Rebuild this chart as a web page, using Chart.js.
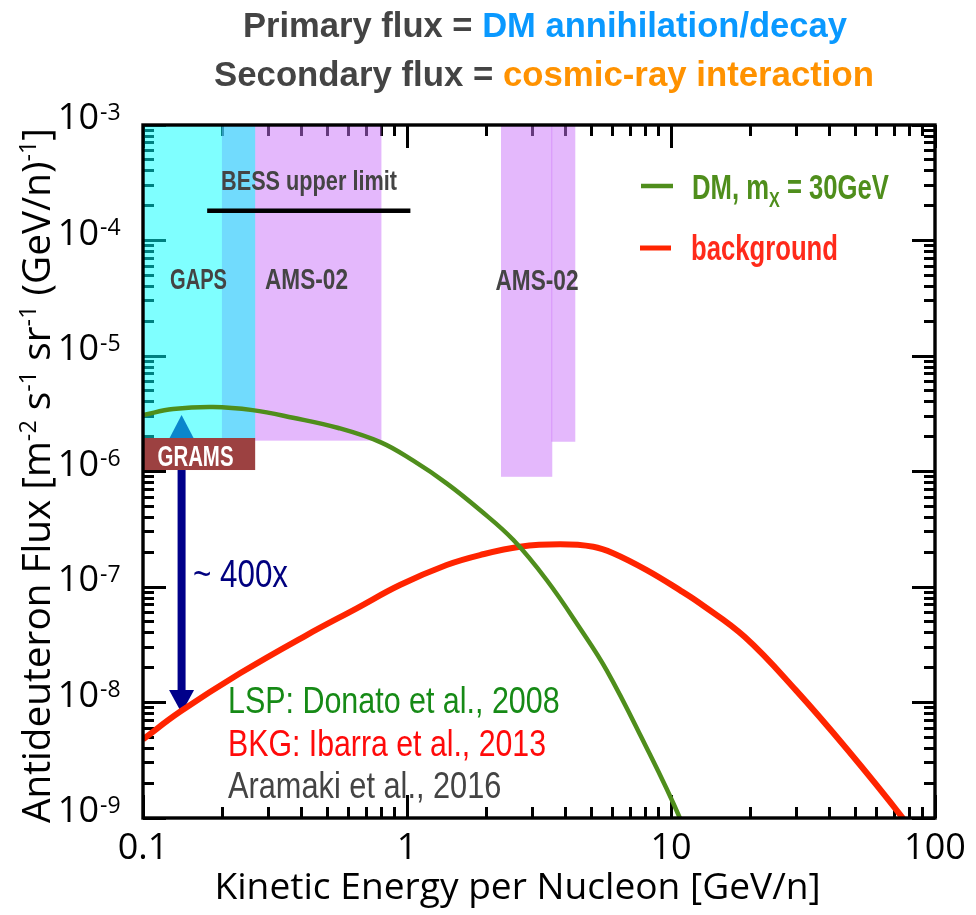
<!DOCTYPE html>
<html><head><meta charset="utf-8">
<script src="https://cdn.jsdelivr.net/npm/chart.js@4/dist/chart.umd.min.js"></script>
<style>html,body{margin:0;padding:0;background:#fff;overflow:hidden}canvas{display:block;background:#fff}</style>
</head><body>
<canvas id="c" width="976" height="915"></canvas>
<script>
// ---------------- DATA ----------------
const dmEnergy = [0.1, 0.13, 0.184, 0.26, 0.37, 0.55, 0.8, 1.056, 1.413, 1.89, 2.53, 3.38, 4.52, 5.70, 7.69, 10.8, 11.5];
const dmFlux   = [3.08e-6, 3.47e-6, 3.62e-6, 3.40e-6, 2.92e-6, 2.38e-6, 1.78e-6, 1.24e-6, 7.9e-7, 4.64e-7, 2.55e-7, 1.15e-7, 4.4e-8, 1.91e-8, 5.1e-9, 1.0e-9, 6.0e-10];
const bkgEnergy = [0.1, 0.138, 0.233, 0.417, 0.645, 0.94, 1.413, 1.89, 2.68, 3.80, 5.08, 6.04, 8.09, 10.8, 12.9, 19.0, 29.7, 46.7, 75.5, 80];
const bkgFlux   = [4.8e-9, 8.3e-9, 1.79e-8, 3.84e-8, 6.54e-8, 1.04e-7, 1.55e-7, 1.89e-7, 2.23e-7, 2.34e-7, 2.23e-7, 1.96e-7, 1.40e-7, 9.4e-8, 7.2e-8, 3.71e-8, 1.28e-8, 3.88e-9, 1.0e-9, 8.0e-10];
const xTickValues = [0.1, 1, 10, 100];
const xTickLabels = ['0.1', '1', '10', '100'];
const yTickValues = [1e-3, 1e-4, 1e-5, 1e-6, 1e-7, 1e-8, 1e-9];
const yTickExponents = ['-3', '-4', '-5', '-6', '-7', '-8', '-9'];
const xMinorDecades = [0.1, 1, 10];
const yMinorDecades = [1e-9, 1e-8, 1e-7, 1e-6, 1e-5, 1e-4];
const minorSteps = [1, 2, 3, 4, 5, 6, 7, 8, 9];
const gapsEnergy = [0.1, 0.266];      const gapsFlux = [1.95e-6, 1e-3];
const amsLowEnergy = [0.199, 0.8];    const amsLowFlux = [1.85e-6, 1e-3];
const amsHigh1Energy = [2.27, 3.55];  const amsHigh1Flux = [9.0e-7, 1e-3];
const amsHigh2Energy = [3.52, 4.34];  const amsHigh2Flux = [1.81e-6, 1e-3];
const bessEnergy = [0.175, 1.03];     const bessFlux = 1.81e-4;
const gramsEnergy = [0.1, 0.266];     const gramsFlux = [1.03e-6, 1.95e-6];
const gramsArrowEnergy = 0.14;        const gramsArrowFlux = [1.03e-6, 8.1e-9];
const gapsMarkerFlux = 3.08e-6;
const seriesLabels = ['DM, m', 'X', ' = 30GeV', 'background'];
const citations = ['LSP: Donato et al., 2008', 'BKG: Ibarra et al., 2013', 'Aramaki et al., 2016'];

// tick mark positions for the library axes
const xMinorTicks = [], yMinorTicks = [];
xMinorDecades.forEach(d => minorSteps.forEach(k => xMinorTicks.push(d * k)));
xMinorTicks.push(100);
yMinorDecades.forEach(d => minorSteps.forEach(k => yMinorTicks.push(d * k)));
yMinorTicks.push(1e-3);

// ---------------- STYLE ----------------
const GREEN = '#4F8E1C', RED = '#FF2400';
const PURPLE = [201, 113, 249], CYAN = [0, 255, 255], SHADE_ALPHA = 0.5;
const NARROW = '"Liberation Sans Narrow", "Liberation Sans", Arial, sans-serif';
const LIGHT = '"Open Sans", "Noto Sans", sans-serif';

function drawFitted(ctx, segs, x0, x1, baseline) {
  ctx.save();
  ctx.textAlign = 'left'; ctx.textBaseline = 'alphabetic';
  let total = 0;
  const ws = segs.map(s => { ctx.font = s.font; const w = ctx.measureText(s.text).width; total += w; return w; });
  const sx = (x1 - x0) / total;
  ctx.translate(x0, baseline);
  ctx.scale(sx, 1);
  let cx = 0;
  segs.forEach((s, i) => { ctx.font = s.font; ctx.fillStyle = s.color; ctx.fillText(s.text, cx, s.dy || 0); cx += ws[i]; });
  ctx.restore();
}

function pixRect(xs, ys, e, f) {
  const x0 = xs.getPixelForValue(e[0]), x1 = xs.getPixelForValue(e[1]);
  const y0 = ys.getPixelForValue(f[1]), y1 = ys.getPixelForValue(f[0]);
  return { x0: x0, y0: y0, x1: x1, y1: y1 };
}
function fillPix(ctx, r, color) { ctx.fillStyle = color; ctx.fillRect(r.x0, r.y0, r.x1 - r.x0, r.y1 - r.y0); }
const rgba = (c, al) => 'rgba(' + c[0] + ',' + c[1] + ',' + c[2] + ',' + al + ')';

const decor = {
  id: 'decor',
  beforeDatasetsDraw(chart) {
    const ctx = chart.ctx, x = chart.scales.x, y = chart.scales.y;
    ctx.save();
    fillPix(ctx, pixRect(x, y, amsLowEnergy, amsLowFlux), rgba(PURPLE, SHADE_ALPHA));
    fillPix(ctx, pixRect(x, y, amsHigh1Energy, amsHigh1Flux), rgba(PURPLE, SHADE_ALPHA));
    fillPix(ctx, pixRect(x, y, amsHigh2Energy, amsHigh2Flux), rgba(PURPLE, SHADE_ALPHA));
    fillPix(ctx, pixRect(x, y, gapsEnergy, gapsFlux), rgba(CYAN, SHADE_ALPHA));
    fillPix(ctx, pixRect(x, y, gramsEnergy, gramsFlux), '#9C4141');
    const by = y.getPixelForValue(bessFlux);
    const bx0 = x.getPixelForValue(bessEnergy[0]), bx1 = x.getPixelForValue(bessEnergy[1]);
    ctx.fillStyle = '#000';
    ctx.fillRect(bx0, by - 2.25, bx1 - bx0, 4.5);
    const tx = x.getPixelForValue(gramsArrowEnergy);
    const tTop = y.getPixelForValue(gapsMarkerFlux), tBase = y.getPixelForValue(gramsFlux[1]);
    ctx.fillStyle = '#0A86CC';
    ctx.beginPath(); ctx.moveTo(tx, tTop); ctx.lineTo(tx + 12, tBase); ctx.lineTo(tx - 12, tBase); ctx.closePath(); ctx.fill();
    const aTop = y.getPixelForValue(gramsArrowFlux[0]), aTip = y.getPixelForValue(gramsArrowFlux[1]);
    ctx.fillStyle = '#00008A';
    ctx.fillRect(tx - 4, aTop, 8, aTip - aTop - 20);
    ctx.beginPath(); ctx.moveTo(tx - 12.5, aTip - 23); ctx.lineTo(tx + 12.5, aTip - 23); ctx.lineTo(tx, aTip); ctx.closePath(); ctx.fill();
    ctx.restore();
  },
  afterDatasetsDraw(chart) {
    const ctx = chart.ctx, a = chart.chartArea, x = chart.scales.x, y = chart.scales.y;
    ctx.save();
    ctx.strokeStyle = '#000'; ctx.lineWidth = 3.4;
    ctx.strokeRect(a.left, a.top, a.right - a.left, a.bottom - a.top);

    const tf = 'bold 35px ' + NARROW;
    drawFitted(ctx, [{ text: 'Primary flux = ', font: tf, color: '#444' }, { text: 'DM annihilation/decay', font: tf, color: '#0A99FF' }], 243, 847, 36.7);
    drawFitted(ctx, [{ text: 'Secondary flux = ', font: tf, color: '#444' }, { text: 'cosmic-ray interaction', font: tf, color: '#FF9200' }], 214, 874, 86);

    const lf = 'bold 30px ' + NARROW;
    drawFitted(ctx, [{ text: 'BESS upper limit', font: 'bold 28px ' + NARROW, color: '#444' }], 221, 397, 190);
    drawFitted(ctx, [{ text: 'GAPS', font: lf, color: '#444' }], 170, 227, 289.3);
    drawFitted(ctx, [{ text: 'AMS-02', font: lf, color: '#444' }], 265, 348, 289.3);
    drawFitted(ctx, [{ text: 'AMS-02', font: lf, color: '#444' }], 495.5, 578.5, 290);
    drawFitted(ctx, [{ text: 'GRAMS', font: 'bold 29px ' + NARROW, color: '#fff' }], 157.5, 233.5, 466);

    ctx.lineWidth = 4.5; ctx.strokeStyle = GREEN;
    ctx.beginPath(); ctx.moveTo(641, 186); ctx.lineTo(673, 186); ctx.stroke();
    ctx.lineWidth = 5; ctx.strokeStyle = RED;
    ctx.beginPath(); ctx.moveTo(640, 248); ctx.lineTo(671, 248); ctx.stroke();
    drawFitted(ctx, [{ text: seriesLabels[0], font: tf, color: GREEN }, { text: seriesLabels[1], font: 'bold 22px ' + NARROW, color: GREEN, dy: 8 }, { text: seriesLabels[2], font: tf, color: GREEN }], 692, 889, 199);
    drawFitted(ctx, [{ text: seriesLabels[3], font: tf, color: '#FF2A1A' }], 691, 838, 260);

    drawFitted(ctx, [{ text: '~ 400x', font: '39px ' + NARROW, color: '#00007F' }], 193, 288, 587);

    const cf = '36px ' + NARROW;
    drawFitted(ctx, [{ text: citations[0], font: cf, color: '#168A16' }], 228, 559.6, 712.7);
    drawFitted(ctx, [{ text: citations[1], font: cf, color: '#FF0A0A' }], 228, 546, 755.7);
    drawFitted(ctx, [{ text: citations[2], font: cf, color: '#444' }], 228, 501.4, 798.3);

    ctx.fillStyle = '#000';
    yTickValues.forEach(function (v, i) {
      const py = y.getPixelForValue(v);
      ctx.font = '36px ' + LIGHT; ctx.textAlign = 'right'; ctx.textBaseline = 'middle';
      ctx.fillText('10', 99, py - 6);
      ctx.font = '23px ' + LIGHT; ctx.textAlign = 'left';
      ctx.fillText(yTickExponents[i], 100, py - 12);
    });
    ctx.font = '36px ' + LIGHT; ctx.textAlign = 'center'; ctx.textBaseline = 'middle';
    xTickValues.forEach(function (v, i) { ctx.fillText(xTickLabels[i], x.getPixelForValue(v), 849); });

    drawFitted(ctx, [{ text: 'Kinetic Energy per Nucleon [GeV/n]', font: '36px ' + LIGHT, color: '#000' }], 214.5, 820.7, 899);

    ctx.save();
    ctx.translate(50, 823); ctx.rotate(-Math.PI / 2);
    const mf = '38px ' + LIGHT, sf = '23px ' + LIGHT;
    drawFitted(ctx, [
      { text: 'Antideuteron Flux [m', font: mf, color: '#000' },
      { text: '-2', font: sf, color: '#000', dy: -14 },
      { text: ' s', font: mf, color: '#000' },
      { text: '-1', font: sf, color: '#000', dy: -14 },
      { text: ' sr', font: mf, color: '#000' },
      { text: '-1', font: sf, color: '#000', dy: -14 },
      { text: ' (GeV/n)', font: mf, color: '#000' },
      { text: '-1', font: sf, color: '#000', dy: -14 },
      { text: ']', font: mf, color: '#000' }
    ], 0, 695, 0);
    ctx.restore();
    ctx.restore();
  }
};

// library axes that only draw inward tick marks (no labels, no space taken)
function tickAxis(axis, position, values, len) {
  return {
    type: 'logarithmic', axis: axis, position: position,
    min: axis === 'x' ? 0.1 : 1e-9, max: axis === 'x' ? 100 : 1e-3,
    display: true,
    ticks: { display: false, autoSkip: false },
    grid: { display: true, drawOnChartArea: false, drawTicks: true, tickLength: -len, tickWidth: 3, lineWidth: 3, color: '#000', tickColor: '#000' },
    border: { display: false },
    afterBuildTicks: function (s) { s.ticks = values.map(v => ({ value: v })); },
    afterFit: function (s) { if (axis === 'x') s.height = 0; else s.width = 0; }
  };
}

const pts = (xs, ys) => xs.map((v, i) => ({ x: v, y: ys[i] }));

new Chart(document.getElementById('c'), {
  type: 'line',
  data: {
    datasets: [
      { label: 'DM, mX = 30GeV', data: pts(dmEnergy, dmFlux), borderColor: GREEN, borderWidth: 4.5, pointRadius: 0, tension: 0.4, fill: false, clip: 0 },
      { label: 'background', data: pts(bkgEnergy, bkgFlux), borderColor: RED, borderWidth: 6, pointRadius: 0, tension: 0.4, fill: false, clip: 0 }
    ]
  },
  options: {
    responsive: false, animation: false, devicePixelRatio: 1,
    layout: { padding: { left: 143, right: 41, top: 125, bottom: 97 } },
    scales: {
      x: tickAxis('x', 'bottom', xMinorTicks, 11),
      xMaj: tickAxis('x', 'bottom', xTickValues, 23),
      xTop: tickAxis('x', 'top', xMinorTicks, 11),
      xTopMaj: tickAxis('x', 'top', xTickValues, 23),
      y: tickAxis('y', 'left', yMinorTicks, 11),
      yMaj: tickAxis('y', 'left', yTickValues, 23),
      yRight: tickAxis('y', 'right', yMinorTicks, 11),
      yRightMaj: tickAxis('y', 'right', yTickValues, 23)
    },
    plugins: { legend: { display: false }, tooltip: { enabled: false }, title: { display: false } }
  },
  plugins: [decor]
});
</script>
</body></html>
